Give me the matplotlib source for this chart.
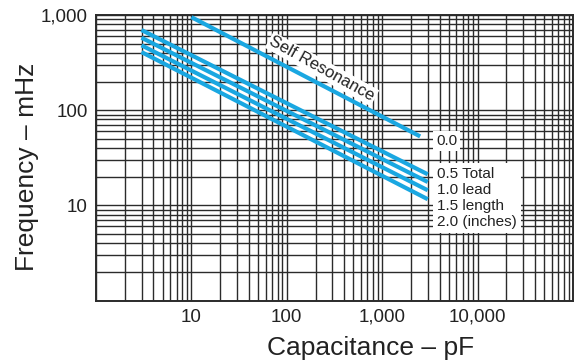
import matplotlib
matplotlib.use("Agg")
import matplotlib.pyplot as plt
from matplotlib.ticker import LogLocator, FixedLocator, FixedFormatter, NullFormatter

plt.rcParams['font.family'] = ['Liberation Sans', 'DejaVu Sans']

# Data
self_res_c = [10, 2500]
self_res_f = [950, 53]

lead_c = [3, 3000]
lead_lengths = ["0.5", "1.0", "1.5", "2.0"]
lead_f = [
    [695, 21.2],
    [577, 17.6],
    [480, 14.4],
    [408, 11.6],
]

x_ticks = [1, 10, 100, 1000, 10000, 100000]
x_ticklabels = ["", "10", "100", "1,000", "10,000", ""]
y_ticks = [1, 10, 100, 1000]
y_ticklabels = ["", "10", "100", "1,000"]

legend_lines = ["0.5 Total", "1.0 lead", "1.5 length", "2.0 (inches)"]

BLUE = "#1aa7e1"
GRID = "#2b2b2b"
TEXT = "#222222"

fig = plt.figure(figsize=(5.77, 3.64), dpi=100)
ax = fig.add_axes([96/577, 1-300.5/364, (573-96)/577, (300.5-15)/364])
ax.set_xscale('log')
ax.set_yscale('log')
ax.set_xlim(1, 1e5)
ax.set_ylim(1, 1000)

ax.xaxis.set_major_locator(FixedLocator(x_ticks))
ax.xaxis.set_major_formatter(FixedFormatter(x_ticklabels))
ax.xaxis.set_minor_locator(LogLocator(base=10, subs=range(2, 10), numticks=20))
ax.xaxis.set_minor_formatter(NullFormatter())
ax.yaxis.set_major_locator(FixedLocator(y_ticks))
ax.yaxis.set_major_formatter(FixedFormatter(y_ticklabels))
ax.yaxis.set_minor_locator(LogLocator(base=10, subs=range(2, 10), numticks=20))
ax.yaxis.set_minor_formatter(NullFormatter())

ax.grid(True, which='both', color=GRID, linewidth=1.0)
ax.set_axisbelow(True)
ax.tick_params(which='both', length=0, labelsize=13.5, colors=TEXT, pad=6)
for s in ax.spines.values():
    s.set_color(GRID)
    s.set_linewidth(1.4)

ax.plot(self_res_c, self_res_f, color=BLUE, lw=3.0, solid_capstyle='butt', zorder=3)
for f in lead_f:
    ax.plot(lead_c, f, color=BLUE, lw=3.0, solid_capstyle='butt', zorder=3)

# Self Resonance label
fig.text(322/577, 1-69/364, "Self Resonance", ha='center', va='center',
         rotation=-29, rotation_mode='anchor', fontsize=12, color=TEXT,
         bbox=dict(boxstyle='square,pad=0.1', fc='white', ec='none'), zorder=4)

# 0.0 label
fig.text(436/577, 1-141/364, "0.0", ha='left', va='center', fontsize=11, color=TEXT,
         bbox=dict(boxstyle='square,pad=0.2', fc='white', ec='none'), zorder=5)

fig.text(437/577, 1-198/364, "\n".join(legend_lines), ha='left', va='center',
         fontsize=11, color=TEXT, linespacing=1.2,
         bbox=dict(boxstyle='square,pad=0.25', fc='white', ec='none'), zorder=5)

fig.text(371/577, 1-348/364, "Capacitance – pF", ha='center', va='center',
         fontsize=19, color=TEXT)
fig.text(27/577, 1-167/364, "Frequency – mHz", ha='center', va='center',
         fontsize=19, color=TEXT, rotation=90)

fig.savefig("out.png", dpi=100)
